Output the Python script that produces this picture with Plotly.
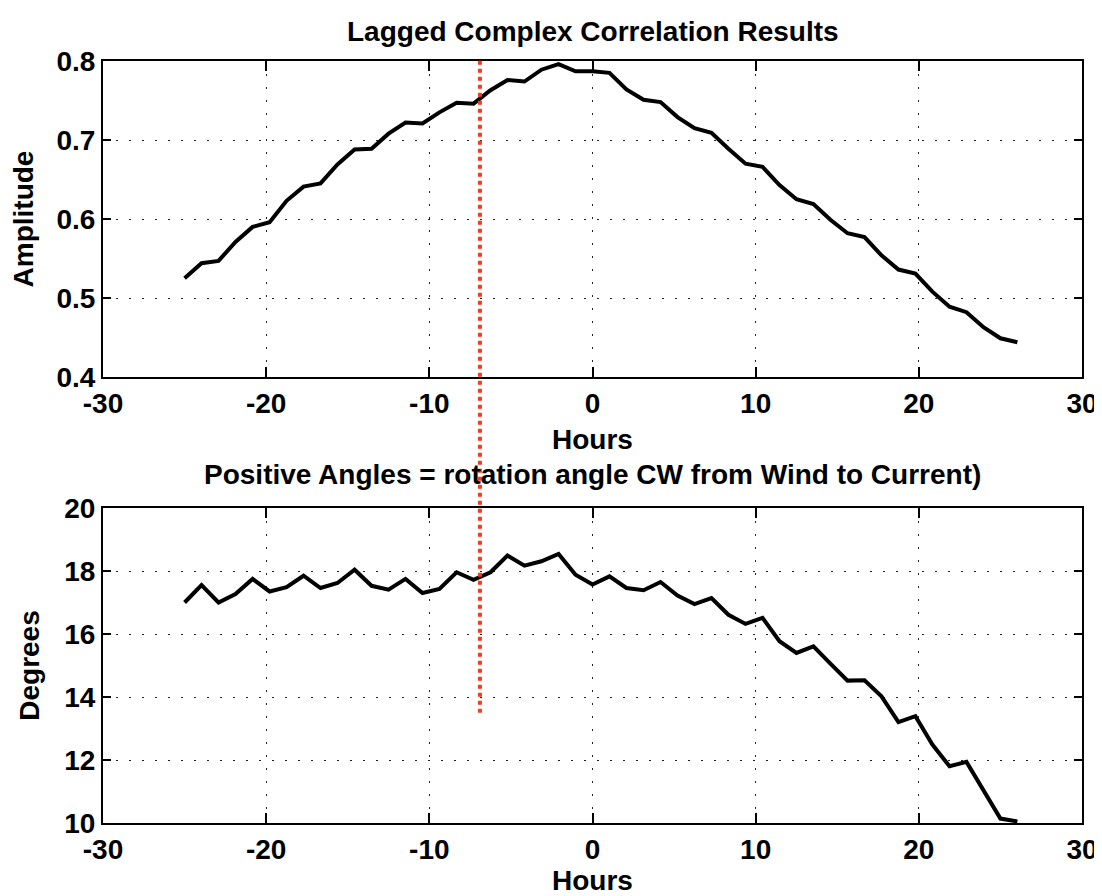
import plotly.graph_objects as go

# ---- data ----
hours = [-25.00, -23.96, -22.92, -21.88, -20.83, -19.79, -18.75, -17.71, -16.67, -15.63,
         -14.58, -13.54, -12.50, -11.46, -10.42, -9.38, -8.33, -7.29, -6.25, -5.21,
         -4.17, -3.13, -2.08, -1.04, 0.00, 1.04, 2.08, 3.13, 4.17, 5.21,
         6.25, 7.29, 8.33, 9.38, 10.42, 11.46, 12.50, 13.54, 14.58, 15.63,
         16.67, 17.71, 18.75, 19.79, 20.83, 21.88, 22.92, 23.96, 25.00, 26.04]

amplitude = [0.525, 0.544, 0.547, 0.571, 0.590, 0.596, 0.623, 0.641, 0.645, 0.669,
             0.688, 0.689, 0.708, 0.722, 0.721, 0.735, 0.747, 0.746, 0.763, 0.776,
             0.774, 0.789, 0.796, 0.787, 0.787, 0.785, 0.764, 0.751, 0.748, 0.729,
             0.715, 0.709, 0.689, 0.670, 0.666, 0.643, 0.625, 0.619, 0.599, 0.582,
             0.577, 0.554, 0.536, 0.531, 0.508, 0.489, 0.482, 0.463, 0.449, 0.444]

degrees = [17.00, 17.55, 17.00, 17.27, 17.75, 17.35, 17.49, 17.85, 17.46, 17.62,
           18.04, 17.53, 17.41, 17.75, 17.30, 17.43, 17.96, 17.72, 17.96, 18.49,
           18.17, 18.31, 18.54, 17.88, 17.57, 17.83, 17.46, 17.39, 17.65, 17.22,
           16.95, 17.14, 16.61, 16.32, 16.51, 15.77, 15.40, 15.61, 15.06, 14.52,
           14.53, 14.02, 13.20, 13.39, 12.49, 11.80, 11.94, 11.01, 10.14, 10.05]

marker_hour = -6.9          # red dotted reference lag
marker_bottom_deg = 13.5    # where the red line stops in the lower panel

x_ticks = [-30, -20, -10, 0, 10, 20, 30]
x_tick_labels = ["-30", "-20", "-10", "0", "10", "20", "30"]
amp_ticks = [0.4, 0.5, 0.6, 0.7, 0.8]
amp_tick_labels = ["0.4", "0.5", "0.6", "0.7", "0.8"]
deg_ticks = [10, 12, 14, 16, 18, 20]
deg_tick_labels = ["10", "12", "14", "16", "18", "20"]

x_range = [-30, 30]
amp_range = [0.4, 0.8]
deg_range = [10, 20]

title_top = "Lagged Complex Correlation Results"
title_bottom = "Positive Angles = rotation angle CW from Wind to Current)"
x_label = "Hours"
y_label_top = "Amplitude"
y_label_bottom = "Degrees"

# ---- styling / layout (page pixels, page body has an 8px margin) ----
FONT = dict(family="Liberation Sans, Arial, Helvetica, sans-serif", size=28, color="black", weight="bold")
BODY = 8
W, H = 1102 - BODY, 896 - BODY
PLOT_LEFT, PLOT_RIGHT, PLOT_TOP, PLOT_BOTTOM = 103, 1082, 61, 823
TOP_PANEL_BOTTOM, BOT_PANEL_TOP = 377, 508
ML = PLOT_LEFT - BODY
MR = W - (PLOT_RIGHT - BODY)
MT = PLOT_TOP - BODY
MB = H - (PLOT_BOTTOM - BODY)
plot_h = PLOT_BOTTOM - PLOT_TOP


def page_y_to_paper(py):
    return (PLOT_BOTTOM - py) / plot_h


top_dom = [page_y_to_paper(TOP_PANEL_BOTTOM), 1.0]
bot_dom = [0.0, page_y_to_paper(BOT_PANEL_TOP)]

fig = go.Figure()
fig.add_trace(go.Scatter(x=hours, y=amplitude, mode="lines", xaxis="x", yaxis="y",
                         line=dict(color="black", width=4), showlegend=False))
fig.add_trace(go.Scatter(x=hours, y=degrees, mode="lines", xaxis="x2", yaxis="y2",
                         line=dict(color="black", width=4), showlegend=False))

common_x = dict(range=x_range, tickmode="array", tickvals=x_ticks, ticktext=x_tick_labels,
                ticks="inside", ticklen=10, tickwidth=1.5,
                tickcolor="black", showline=True, linewidth=2, linecolor="black", mirror="ticks",
                showgrid=True, gridcolor="#222", gridwidth=1, griddash="2px,11px",
                zeroline=False, tickfont=FONT, automargin=False,
                title=dict(text=x_label, font=FONT, standoff=12))
common_y = dict(ticks="inside", ticklen=8, tickwidth=1.5, tickcolor="black",
                showline=True, linewidth=2, linecolor="black", mirror="ticks",
                showgrid=True, gridcolor="#222", gridwidth=1, griddash="2px,11px",
                zeroline=False, tickfont=FONT, automargin=False, tickmode="array")

fig.update_layout(
    width=W, height=H, margin=dict(l=ML, r=MR, t=MT, b=MB),
    paper_bgcolor="white", plot_bgcolor="white",
    xaxis=dict(common_x, domain=[0, 1], anchor="y"),
    yaxis=dict(common_y, domain=top_dom, anchor="x", range=amp_range,
               tickvals=amp_ticks, ticktext=amp_tick_labels,
               title=dict(text=y_label_top, font=FONT, standoff=17)),
    xaxis2=dict(common_x, domain=[0, 1], anchor="y2"),
    yaxis2=dict(common_y, domain=bot_dom, anchor="x2", range=deg_range,
                tickvals=deg_ticks, ticktext=deg_tick_labels,
                title=dict(text=y_label_bottom, font=FONT, standoff=16)),
)

fig.add_annotation(text=title_top, xref="paper", yref="paper", x=0.5, y=page_y_to_paper(31),
                   showarrow=False, font=FONT, xanchor="center", yanchor="middle")
fig.add_annotation(text=title_bottom, xref="paper", yref="paper", x=0.5, y=page_y_to_paper(474),
                   showarrow=False, font=FONT, xanchor="center", yanchor="middle")

# red dotted vertical marker spanning from top panel into the lower panel
y_bottom_paper = bot_dom[0] + (marker_bottom_deg - deg_range[0]) / (deg_range[1] - deg_range[0]) * (bot_dom[1] - bot_dom[0])
fig.add_shape(type="line", xref="x", yref="paper", x0=marker_hour, x1=marker_hour,
              y0=y_bottom_paper, y1=page_y_to_paper(59), line=dict(color="#ff3a12", width=4, dash="dot"),
              layer="above")

fig.write_html("out.html")
